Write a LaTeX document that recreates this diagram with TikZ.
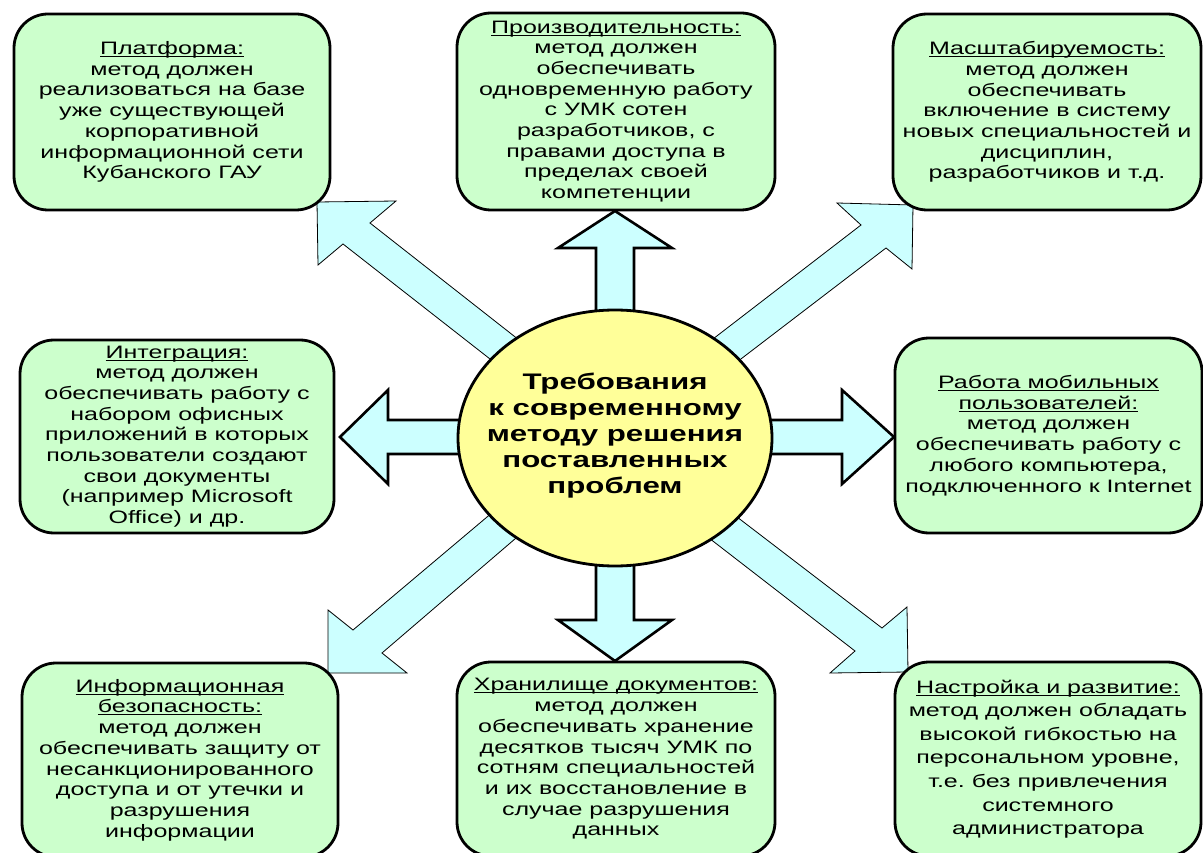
\documentclass[tikz,border=0pt]{standalone}
\usepackage{fontspec}
\setmainfont{Liberation Sans}[FakeStretch=1.39]
\usetikzlibrary{shapes.geometric}
\definecolor{boxgreen}{HTML}{CCFFCC}
\definecolor{ellyellow}{HTML}{FFFF99}
\definecolor{arrcyan}{HTML}{CCFFFF}
\newcommand\hdr[1]{\setbox0\hbox{#1}\rlap{\rule[-2.5pt]{\wd0}{1pt}}\box0}
\frenchspacing
\begin{document}
\begin{tikzpicture}[x=1pt,y=-1pt,
  box/.style={draw=black, line width=2.8pt, fill=boxgreen, rounded corners=34pt,
    align=center, inner sep=0pt, font=\frenchspacing\fontsize{18}{20.7}\selectfont},
  carrow/.style={draw=black, line width=2.6pt, fill=arrcyan, line join=miter},
  darrow/.style={draw=black, line width=0.8pt, fill=arrcyan, line join=miter},
  hubshape/.style={draw=black, line width=2.8pt, fill=ellyellow},
  hubtext/.style={inner sep=0pt, align=center, font=\bfseries\fontsize{22.5}{26}\selectfont}]
\useasboundingbox (0,0) rectangle (1203,853);
% diagonal arrows
\draw[darrow] (317,202) -- (396,201) -- (370,223) -- (570,380) -- (545,402) -- (343,244) -- (318,265) -- cycle;
\draw[darrow] (913,205) -- (837,203) -- (861,225) -- (661,379) -- (686,401) -- (886,248) -- (912,269) -- cycle;
\draw[darrow] (328,673) -- (407,673) -- (382,653) -- (565,496) -- (538,474) -- (353,630) -- (328,610) -- cycle;
\draw[darrow] (908,672) -- (907,607) -- (882,628) -- (690,481) -- (665,504) -- (855,651) -- (830,673) -- cycle;
% cardinal arrows
\draw[carrow] (596,400) -- (596,248) -- (558,248) -- (615,211) -- (672,248) -- (634,248) -- (634,400) -- cycle;
\draw[carrow] (596,480) -- (596,620) -- (558,620) -- (615,661) -- (672,620) -- (634,620) -- (634,480) -- cycle;
\draw[carrow] (540,420) -- (388,420) -- (388,390) -- (340,437) -- (388,484) -- (388,454) -- (540,454) -- cycle;
\draw[carrow] (690,420) -- (842,420) -- (842,390) -- (894,437) -- (842,484) -- (842,454) -- (690,454) -- cycle;
% hub
\draw[hubshape] (615,438) ellipse [x radius=157, y radius=128];
\node[hubtext] (c) at (615,436)
  {Требования\\к современному\\методу решения\\поставленных\\проблем};
% boxes
\node[box, minimum width=316pt, minimum height=196pt] (plat) at (172,112)
  {\hdr{Платформа:}\\метод должен\\реализоваться на базе\\уже существующей\\корпоративной\\информационной сети\\Кубанского ГАУ};
\node[box, minimum width=318pt, minimum height=197pt] (perf) at (616,111.5)
  {\hdr{Производительность:}\\метод должен\\обеспечивать\\одновременную работу\\с УМК сотен\\разработчиков, с\\правами доступа в\\пределах своей\\компетенции};
\node[box, minimum width=308pt, minimum height=196pt] (scal) at (1047,112)
  {\hdr{Масштабируемость:}\\метод должен\\обеспечивать\\включение в систему\\новых специальностей и\\дисциплин,\\разработчиков и т.д.};
\node[box, minimum width=314pt, minimum height=193pt] (integ) at (177,436.5)
  {\hdr{Интеграция:}\\метод должен\\обеспечивать работу с\\набором офисных\\приложений в которых\\пользователи создают\\свои документы\\(например Microsoft\\Office) и др.};
\node[box, minimum width=307pt, minimum height=195pt] (mob) at (1048.5,435.5)
  {\hdr{Работа мобильных}\\\hdr{пользователей:}\\метод должен\\обеспечивать работу с\\любого компьютера,\\подключенного к Internet};
\node[box, minimum width=316pt, minimum height=194pt] (isec) at (180,760)
  {\hdr{Информационная}\\\hdr{безопасность:}\\метод должен\\обеспечивать защиту от\\несанкционированного\\доступа и от утечки и\\разрушения\\информации};
\node[box, minimum width=318pt, minimum height=194pt] (stor) at (616,759)
  {\hdr{Хранилище документов:}\\метод должен\\обеспечивать хранение\\десятков тысяч УМК по\\сотням специальностей\\и их восстановление в\\случае разрушения\\данных};
\node[box, minimum width=306pt, minimum height=194pt, font=\frenchspacing\fontsize{18}{23.6}\selectfont] (cust) at (1048,759)
  {\hdr{Настройка и развитие:}\\метод должен обладать\\высокой гибкостью на\\персональном уровне,\\т.е. без привлечения\\системного\\администратора};
\end{tikzpicture}
\end{document}
